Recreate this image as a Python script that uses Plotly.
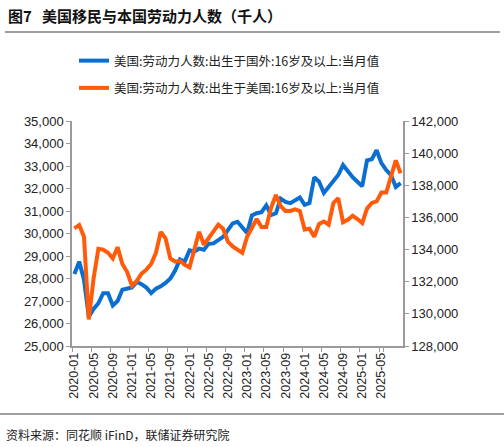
import plotly.graph_objects as go
import pandas as pd

# months 2020-01 .. 2025-09
months = [d.strftime("%Y-%m") for d in pd.date_range("2020-01-01", "2025-09-01", freq="MS")]

# 美国:劳动力人数:出生于国外:16岁及以上 (千人, left axis)
foreign_born = [
    28200, 28750, 27950, 26300, 26650, 26900, 27350, 27350, 26800, 27000, 27500, 27550,
    27600, 27850, 27750, 27600, 27350, 27550, 27650, 27800, 28000, 28350, 28850, 28750,
    29250, 29200, 29330, 29280, 29550, 29560, 29700, 29850, 30150, 30450, 30520, 30300,
    30020, 30800, 30900, 30950, 31250, 30820, 30900, 31550, 31400, 31350, 31480, 31600,
    31270, 31350, 32500, 32300, 31800, 32050, 32300, 32600, 33040, 32750, 32500, 32300,
    32100, 33250, 33300, 33700, 33130, 32820, 32600, 32070, 32240,
]

# 美国:劳动力人数:出生于美国:16岁及以上 (千人, right axis)
native_born = [
    135320, 135530, 134800, 129650, 132200, 134050, 134000, 133800, 133450, 134150, 133100, 132600,
    131750, 132050, 132500, 132750, 133100, 133800, 135100, 134700, 133450, 133250, 133300, 133050,
    132900, 133900, 135100, 134300, 134700, 135150, 135550, 135300, 134500, 134200, 134000, 133800,
    134800, 135300, 135900, 135400, 135400, 136600, 137400, 136700, 136400, 136400, 136500, 136400,
    135250, 135300, 134800, 135600, 135750, 135550, 136900, 137200, 135700, 135850, 136100, 135900,
    135650, 136550, 136900, 137000, 137550, 137550, 138600, 139550, 138750,
]

tick_labels = months[:-1:4]  # 2020-01 .. 2025-05

BLUE = "#0A6FD0"
ORANGE = "#FF5B0A"
AXIS = "#9a9a9a"
FONT = "Liberation Sans, Noto Sans CJK SC, sans-serif"
CJK = "Noto Sans CJK SC, sans-serif"

fig = go.Figure()
fig.add_trace(go.Scatter(
    x=months, y=foreign_born, mode="lines", name="美国:劳动力人数:出生于国外:16岁及以上:当月值",
    line=dict(color=BLUE, width=4), legendgroup="a", yaxis="y",
))
fig.add_trace(go.Scatter(
    x=months, y=native_born, mode="lines", name="美国:劳动力人数:出生于美国:16岁及以上:当月值",
    line=dict(color=ORANGE, width=4), legendgroup="b", yaxis="y2",
))

# plot area 72..403 x 121..346 px
W, H = 504, 447
L, R, T, B = 72, 101, 121, 101
pw, ph = W - L - R, H - T - B


def px_x(x):
    return (x - L) / pw


def px_y(y):
    return (H - B - y) / ph


fig.update_layout(
    width=W, height=H,
    margin=dict(l=L, r=R, t=T, b=B, autoexpand=False),
    paper_bgcolor="white", plot_bgcolor="white",
    font=dict(family=FONT, size=13, color="#222"),
    showlegend=True,
    legend=dict(
        x=px_x(74), y=px_y(46), xanchor="left", yanchor="top",
        font=dict(family=CJK, size=12.5, color="#222"),
        tracegroupgap=8, traceorder="grouped", bgcolor="rgba(0,0,0,0)",
    ),
    xaxis=dict(
        type="category", range=[-0.5, len(months) - 0.5],
        tickmode="array", tickvals=tick_labels, ticktext=tick_labels,
        tickangle=-90, tickson="boundaries",
        showline=True, linecolor=AXIS, linewidth=1.5,
        ticks="outside", ticklen=4, tickcolor=AXIS,
        showgrid=False, zeroline=False,
        tickfont=dict(size=12.5, color="#222"),
    ),
    yaxis=dict(
        range=[25000, 35000], dtick=1000, tickformat=",",
        showline=True, linecolor=AXIS, linewidth=1.5,
        ticks="outside", ticklen=4, tickcolor=AXIS,
        showgrid=False, zeroline=False,
    ),
    yaxis2=dict(
        range=[128000, 142000], dtick=2000, tickformat=",",
        overlaying="y", side="right", anchor="x",
        showline=True, linecolor=AXIS, linewidth=1.5,
        ticks="outside", ticklen=4, tickcolor=AXIS,
        showgrid=False, zeroline=False,
    ),
    annotations=[
        dict(text="<b>图7   美国移民与本国劳动力人数（千人）</b>", xref="paper", yref="paper",
             x=px_x(6), y=px_y(15), xanchor="left", yanchor="middle", showarrow=False,
             font=dict(family=CJK, size=15, color="#111")),
        dict(text="资料来源：同花顺 iFinD，联储证券研究院", xref="paper", yref="paper",
             x=px_x(4), y=px_y(434), xanchor="left", yanchor="middle", showarrow=False,
             font=dict(family=CJK, size=12, color="#222")),
    ],
    shapes=[
        dict(type="line", xref="paper", yref="paper", x0=px_x(5), x1=px_x(500),
             y0=px_y(32), y1=px_y(32), line=dict(color="#808080", width=1.5)),
        dict(type="line", xref="paper", yref="paper", x0=px_x(0), x1=px_x(504),
             y0=px_y(414), y1=px_y(414), line=dict(color="#808080", width=1.5)),
    ],
)

# drop the default 8px page margin so figure pixels match the window
fig.write_html("out.html", config={"displayModeBar": False},
               post_script="document.body.style.margin='0';")
